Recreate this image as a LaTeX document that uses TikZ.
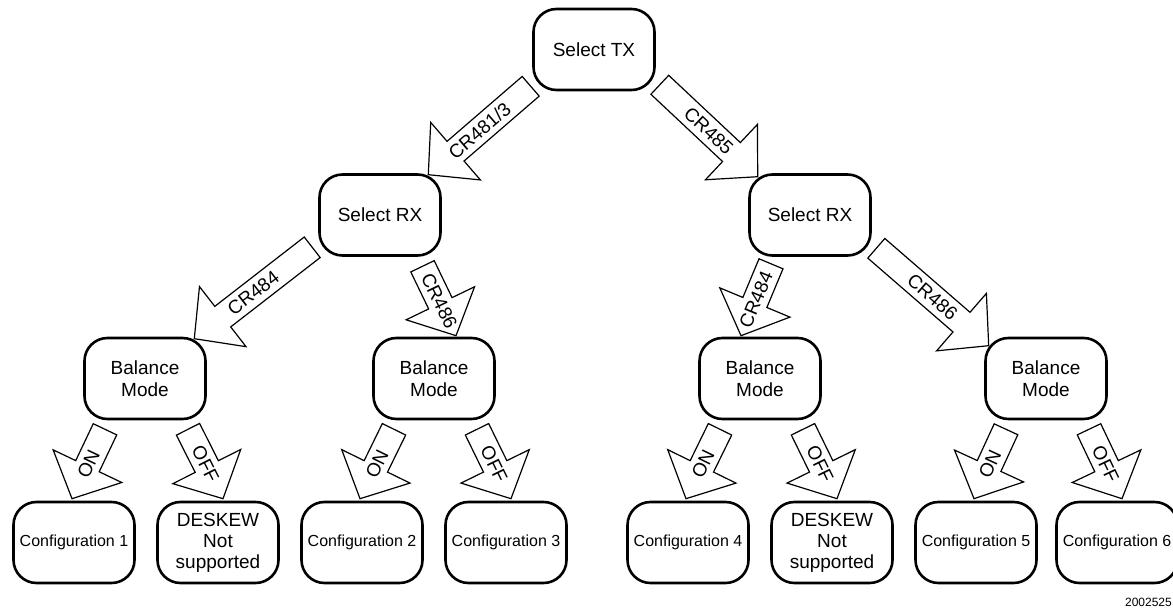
\documentclass[tikz,border=0pt]{standalone}
\usepackage{fontspec}
\setmainfont{Liberation Sans}
\usetikzlibrary{calc}

\begin{document}
\begin{tikzpicture}[
   x=1pt,y=-1pt,
   state/.style={draw,line width=2.6pt,rounded corners=23pt,minimum width=121pt,
      minimum height=81pt,inner sep=1pt,align=center,font=\fontsize{19}{22}\selectfont},
   conf/.style={state,font=\fontsize{16}{19}\selectfont},
   block/.style={draw,line width=1.2pt,line join=miter,
      to path={($(\tikztostart)!13pt!90:(\tikztotarget)$)
        -- ($(\tikztotarget)!36pt!(\tikztostart)!13pt!90:(\tikztotarget)$)
        -- ($(\tikztotarget)!36pt!(\tikztostart)!38pt!90:(\tikztotarget)$)
        -- (\tikztotarget)
        -- ($(\tikztotarget)!36pt!(\tikztostart)!38pt!-90:(\tikztotarget)$)
        -- ($(\tikztotarget)!36pt!(\tikztostart)!13pt!-90:(\tikztotarget)$)
        -- ($(\tikztostart)!13pt!-90:(\tikztotarget)$) -- cycle}},
   lab/.style={sloped,midway,inner sep=0pt,font=\fontsize{19}{22}\selectfont}]
\useasboundingbox (0,0) rectangle (1173,609);
% decision levels
\node[state] (TX) at (594,49.5) {Select TX};
\node[state] (RXl) at (380,215) {Select RX};
\node[state] (RXr) at (810,215) {Select RX};
\node[state] (BM1) at (145,378.5) {Balance\\Mode};
\node[state] (BM2) at (434,378.5) {Balance\\Mode};
\node[state] (BM3) at (760,378.5) {Balance\\Mode};
\node[state] (BM4) at (1046,378.5) {Balance\\Mode};
\node[conf] (C1) at (74,542.5) {Configuration 1};
\node[state,font=\fontsize{19}{21}\selectfont] (D1) at (218,542.5) {DESKEW\\Not\\supported};
\node[conf] (C2) at (362,542.5) {Configuration 2};
\node[conf] (C3) at (506,542.5) {Configuration 3};
\node[conf] (C4) at (688,542.5) {Configuration 4};
\node[state,font=\fontsize{19}{21}\selectfont] (D2) at (832,542.5) {DESKEW\\Not\\supported};
\node[conf] (C5) at (976,542.5) {Configuration 5};
\node[conf] (C6) at (1117,542.5) {Configuration 6};
\node[anchor=base east,inner sep=0pt,font=\fontsize{12}{14}\selectfont] (id) at (1172,606) {2002525};
% arrow ends
\coordinate (a1) at ($(TX.south west)+(-1.5,-5)$);
\coordinate (b1) at ($(RXl.north east)+(-13.5,1.5)$);
\coordinate (a2) at ($(TX.south east)+(4,-6.5)$);
\coordinate (b2) at ($(RXr.north west)+(9.5,3.5)$);
\coordinate (a3) at ($(RXl.south west)+(-6,-9.5)$);
\coordinate (b3) at ($(BM1.north east)+(-12.5,2)$);
\coordinate (a4) at ($(RXl.south)+(42.5,9.5)$);
\coordinate (b4) at ($(BM2.north)+(22,-1)$);
\coordinate (a5) at ($(RXr.south)+(-39,7)$);
\coordinate (b5) at ($(BM3.north)+(-19,-1)$);
\coordinate (a6) at ($(RXr.south east)+(4.5,-8.5)$);
\coordinate (b6) at ($(BM4.north west)+(4.5,9)$);
\draw[block] (a1) to (b1);
\path (a1) -- node[lab] {CR481/3} (b1);
\draw[block] (a2) to (b2);
\path (a2) -- node[lab] {CR485} (b2);
\draw[block] (a3) to (b3);
\path (a3) -- node[lab] {CR484} (b3);
\draw[block] (a4) to (b4);
\path (a4) -- node[lab] {CR486} (b4);
\draw[block] (a5) to (b5);
\path (a5) -- node[lab] {CR484} (b5);
\draw[block] (a6) to (b6);
\path (a6) -- node[lab] {CR486} (b6);
% balance mode switches
\foreach \m/\l/\r in {BM1/C1/D1,BM2/C2/C3,BM3/C4/D2,BM4/C5/C6}{
  \coordinate (\m on) at ($(\m.south)+(-40,9)$);
  \coordinate (\l in) at ($(\l.north)+(-2,-2)$);
  \coordinate (\m off) at ($(\m.south)+(43,9)$);
  \coordinate (\r in) at ($(\r.north)+(5,-2)$);
  \draw[block] (\m on) to (\l in);
  \path (\m on) -- node[lab] {ON} (\l in);
  \draw[block] (\m off) to (\r in);
  \path (\m off) -- node[lab] {OFF} (\r in);
}
\end{tikzpicture}
\end{document}
